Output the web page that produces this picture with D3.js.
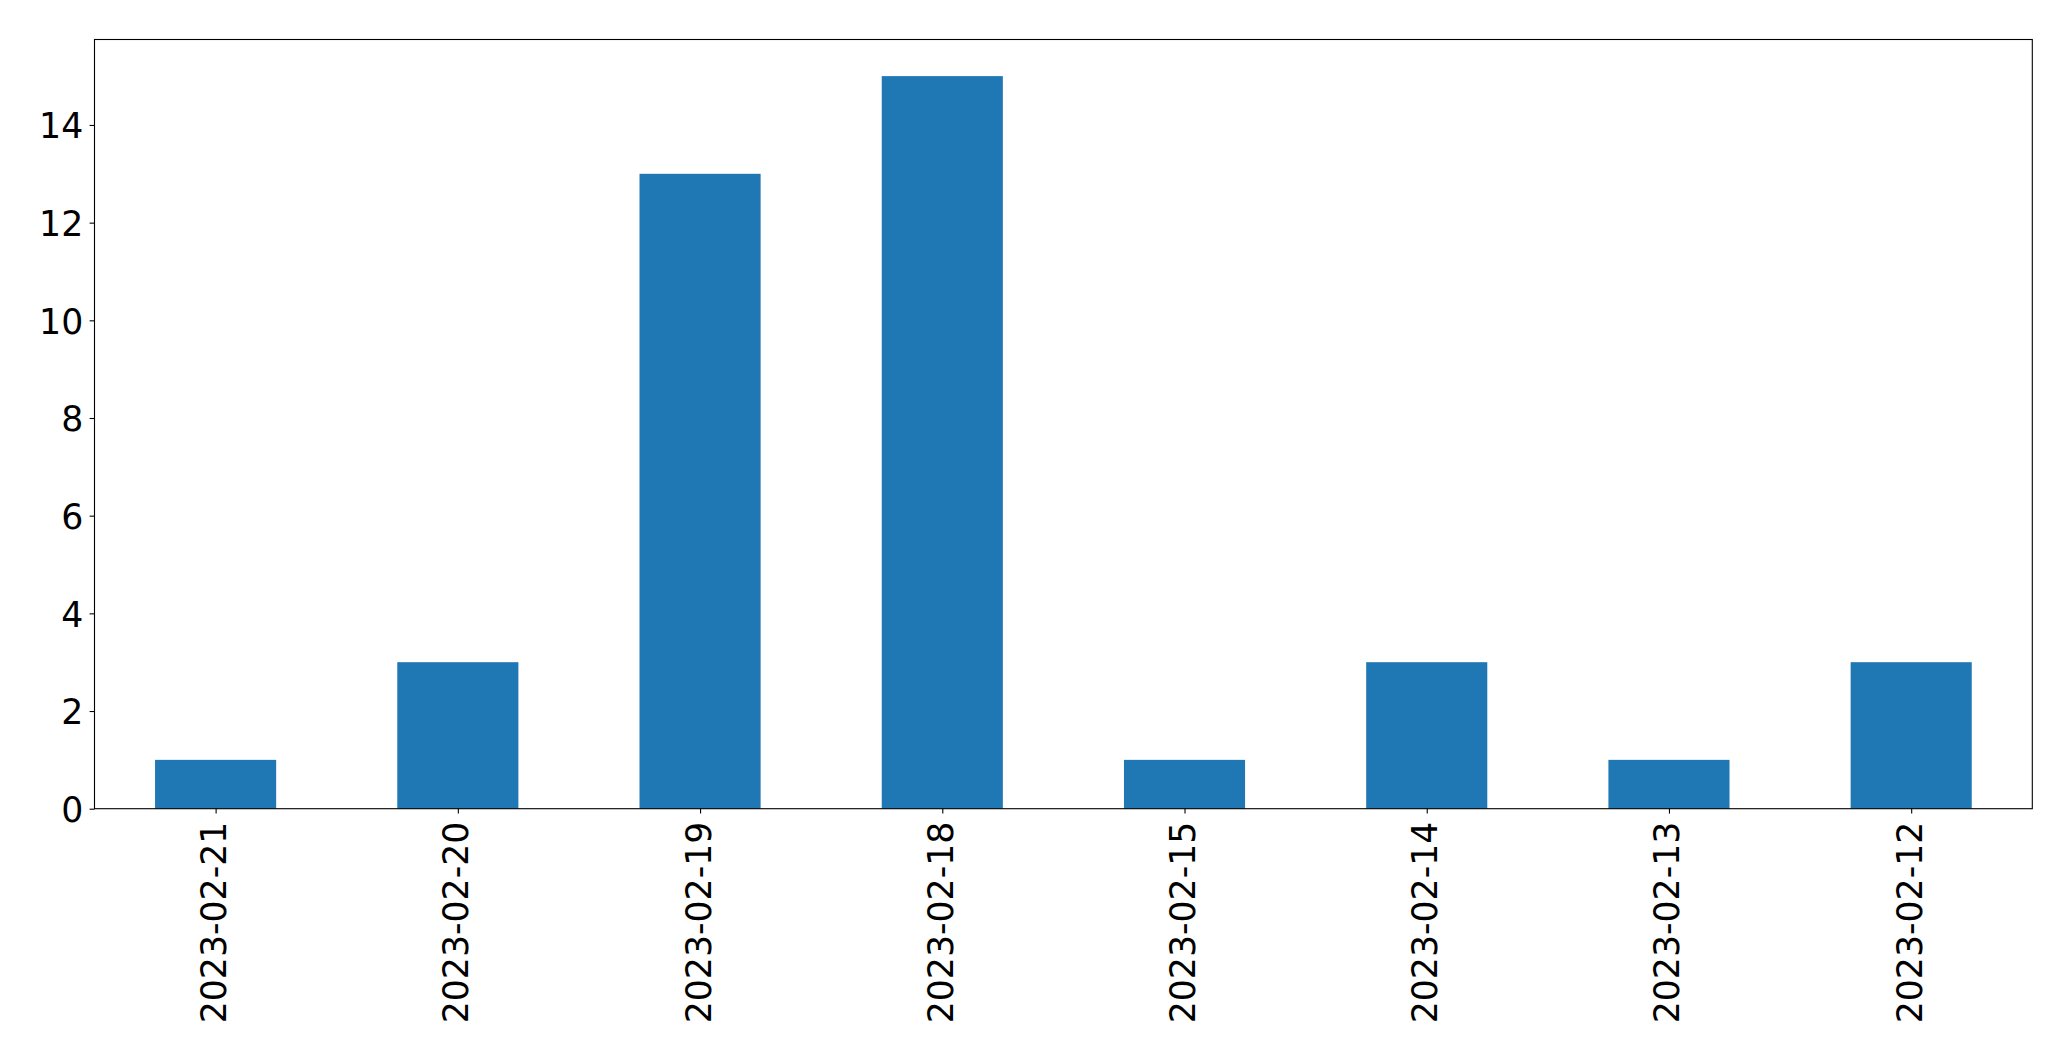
<!DOCTYPE html>
<html>
<head>
<meta charset="utf-8">
<script src="https://cdn.jsdelivr.net/npm/d3@7"></script>
<style>
  html, body { margin: 0; padding: 0; background: #fff; }
  svg { display: block; }
  text { font-family: "DejaVu Sans", sans-serif; fill: #000; }
</style>
</head>
<body>
<script>
const categories = ["2023-02-21", "2023-02-20", "2023-02-19", "2023-02-18", "2023-02-15", "2023-02-14", "2023-02-13", "2023-02-12"];
const counts = [1, 3, 13, 15, 1, 3, 1, 3];
const yTicks = [0, 2, 4, 6, 8, 10, 12, 14];

(function () {
const W = 2071, H = 1061;
const mLeft = 94.5, mRight = 2032.3, mTop = 39.5, mBottom = 808.7;
const fontSize = 34.7;

const svg = d3.select("body").append("svg").attr("width", W).attr("height", H);

const x = d3.scaleLinear().domain([-0.5, categories.length - 0.5]).range([mLeft, mRight]);
const y = d3.scaleLinear().domain([0, d3.max(counts) * 1.05]).range([mBottom, mTop]);
const barW = x(0.25) - x(-0.25);

svg.append("g").selectAll("rect").data(counts).join("rect")
  .attr("x", (d, i) => x(i) - barW / 2)
  .attr("y", d => y(d))
  .attr("width", barW)
  .attr("height", d => y(0) - y(d))
  .attr("fill", "#1f77b4");

// frame
svg.append("rect")
  .attr("x", mLeft).attr("y", mTop)
  .attr("width", mRight - mLeft).attr("height", mBottom - mTop)
  .attr("fill", "none").attr("stroke", "#000").attr("stroke-width", 1.1);

// y axis
const yAxis = d3.axisLeft(y).tickValues(yTicks).tickSize(4.9).tickPadding(6.4).tickFormat(d3.format("d"));
const gy = svg.append("g").attr("transform", `translate(${mLeft},0)`).call(yAxis);
gy.select(".domain").remove();
gy.selectAll(".tick line").attr("stroke", "#000").attr("stroke-width", 1.1);
gy.selectAll(".tick text")
  .style("font-family", "'DejaVu Sans', sans-serif")
  .style("font-size", fontSize + "px")
  .attr("fill", "#000")
  .attr("dy", "12.7px");

// x axis
const xAxis = d3.axisBottom(x).tickValues(d3.range(categories.length)).tickSize(4.9).tickFormat(i => categories[i]);
const gx = svg.append("g").attr("transform", `translate(0,${mBottom})`).call(xAxis);
gx.select(".domain").remove();
gx.selectAll(".tick line").attr("stroke", "#000").attr("stroke-width", 1.1);
gx.selectAll(".tick text")
  .style("font-family", "'DejaVu Sans', sans-serif")
  .style("font-size", fontSize + "px")
  .attr("fill", "#000")
  .attr("text-anchor", "end")
  .attr("x", 0).attr("y", 0)
  .attr("dy", "10px")
  .attr("transform", "translate(0,13) rotate(-90)");
})();
</script>
</body>
</html>
